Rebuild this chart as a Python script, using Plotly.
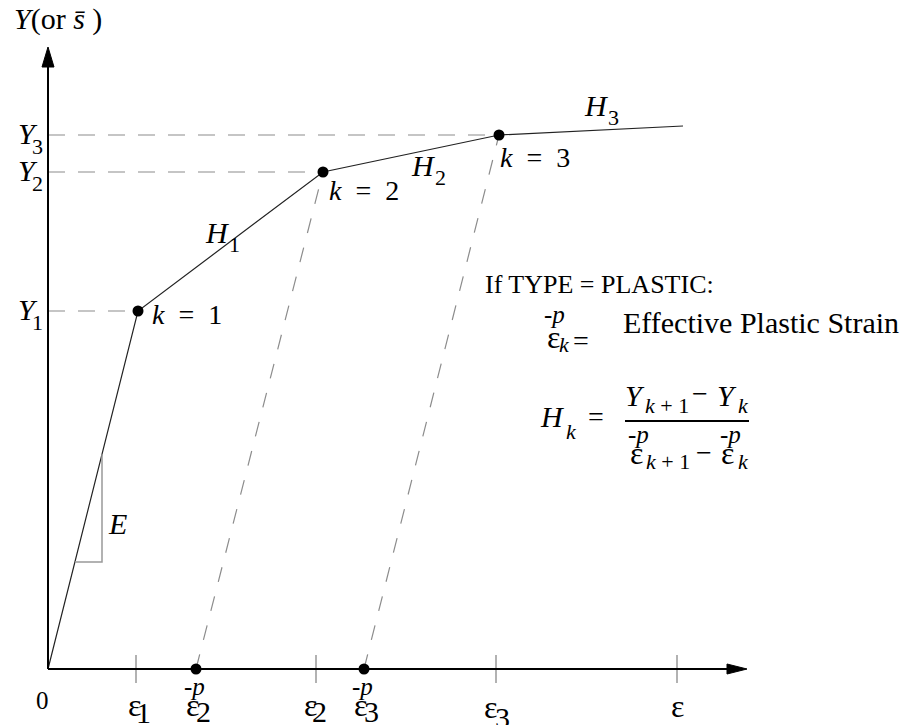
import plotly.graph_objects as go

# ---------------- data (schematic strain / stress units) ----------------
strain_pts = [0, 90, 275, 451, 635]        # origin, k=1, k=2, k=3, end of H3 segment
stress_pts = [0, 358, 497, 534, 543]
yield_levels = [358, 497, 534]             # Y1, Y2, Y3
yield_subs = ["1", "2", "3"]
total_strain_ticks = [88, 268, 448, 629]   # ε1, ε2, ε3, ε
total_strain_subs = ["1", "2", "3", ""]
plastic_strains = [148, 316]               # ε̄2p, ε̄3p
plastic_subs = ["2", "3"]
k_labels = ["1", "2", "3"]
H_subs = ["1", "2", "3"]

X_END = 699     # x-axis arrow tip (strain units)
Y_END = 622     # y-axis arrow tip (stress units)

# canvas
W, H = 905, 725
OX, OY = 48, 669   # where the origin sits on the canvas
FONT = "Liberation Serif"
DASH_GRAY = "#8c8c8c"

fig = go.Figure()

# horizontal dashed yield lines
for k, yv in enumerate(yield_levels):
    fig.add_trace(go.Scatter(x=[0, strain_pts[k + 1]], y=[yv, yv], mode="lines",
                             line=dict(color=DASH_GRAY, width=1.2, dash="17px,13px"),
                             hoverinfo="skip"))
# dashed elastic unloading lines
for i, ep in enumerate(plastic_strains):
    fig.add_trace(go.Scatter(x=[ep, strain_pts[i + 2]], y=[0, stress_pts[i + 2]], mode="lines",
                             line=dict(color=DASH_GRAY, width=1.2, dash="15px,15px"),
                             hoverinfo="skip"))
# stress-strain curve
fig.add_trace(go.Scatter(x=strain_pts, y=stress_pts, mode="lines",
                         line=dict(color="#222222", width=1.2), hoverinfo="skip"))
# k points
fig.add_trace(go.Scatter(x=strain_pts[1:4], y=stress_pts[1:4], mode="markers",
                         marker=dict(color="black", size=11), hoverinfo="skip"))
# plastic strain points on axis
fig.add_trace(go.Scatter(x=plastic_strains, y=[0] * len(plastic_strains), mode="markers",
                         marker=dict(color="black", size=11), hoverinfo="skip"))

shapes = []
# tick marks
for t in total_strain_ticks:
    shapes.append(dict(type="line", x0=t, x1=t, y0=-14, y1=14, xref="x", yref="y",
                       line=dict(color="#999999", width=1.5)))
# axes
shapes.append(dict(type="line", x0=0, x1=X_END - 19, y0=0, y1=0, xref="x", yref="y",
                   line=dict(color="black", width=2)))
shapes.append(dict(type="line", x0=0, x1=0, y0=0, y1=Y_END - 19, xref="x", yref="y",
                   line=dict(color="black", width=2)))
shapes.append(dict(type="path", xref="x", yref="y",
                   path=f"M {X_END-20},-5 L {X_END},0 L {X_END-20},5 Z",
                   fillcolor="black", line=dict(color="black", width=1)))
shapes.append(dict(type="path", xref="x", yref="y",
                   path=f"M -6,{Y_END-20} L 0,{Y_END} L 6,{Y_END-20} Z",
                   fillcolor="black", line=dict(color="black", width=1)))
# slope triangle E
E_slope = stress_pts[1] / strain_pts[1]
tri_x, tri_y = 54, 107
shapes.append(dict(type="path", xref="x", yref="y",
                   path=f"M {tri_y/E_slope},{tri_y} L {tri_x},{tri_y} L {tri_x},{E_slope*tri_x}",
                   line=dict(color="#999999", width=1.5)))
# fraction bar
shapes.append(dict(type="line", xref="x", yref="y", x0=625 - OX, x1=749 - OX,
                   y0=OY - 421, y1=OY - 421, line=dict(color="black", width=2)))

annotations = []


def ann(px, py, text, size, xanchor="center", yanchor="middle"):
    annotations.append(dict(x=px - OX, y=OY - py, xref="x", yref="y", text=text,
                            showarrow=False, xanchor=xanchor, yanchor=yanchor,
                            font=dict(family=FONT, size=size, color="black")))


def ann_d(x, y, dx, dy, text, size, xanchor="center"):
    annotations.append(dict(x=x, y=y, xref="x", yref="y", text=text, showarrow=False,
                            xshift=dx, yshift=-dy, xanchor=xanchor, yanchor="middle",
                            font=dict(family=FONT, size=size, color="black")))


# axis title
ann(12, 19, "<i>Y</i>(or <i>s\u0304</i> )", 30, xanchor="left")
# Y labels
for yv, s in zip(yield_levels, yield_subs):
    ann_d(0, yv, -20, -2, "<i>Y</i>", 30)
    ann_d(0, yv, -11, 11, s, 22)
# origin
ann(42, 700, "0", 25)
# total strain tick labels
eps_off = [(-2, 36, 7, 43), (-6, 36, 3, 42), (-6, 38, 6, 48), (0, 37, 0, 0)]
for t, s, (ex, ey, sx, sy) in zip(total_strain_ticks, total_strain_subs, eps_off):
    ann_d(t, 0, ex, ey, "ε", 32)
    if s:
        ann_d(t, 0, sx, sy, s, 30)
# plastic strain labels
for ep, s in zip(plastic_strains, plastic_subs):
    ann_d(ep, 0, -4, 36, "ε", 32)
    ann_d(ep, 0, 7, 42, s, 30)
    ann_d(ep, 0, -2, 17, "-<i>p</i>", 25)
# k labels
k_pos = [(12, 3), (4, 18), (-1, 22)]
for k, (dx, dy) in zip(k_labels, k_pos):
    i = int(k)
    ann_d(strain_pts[i], stress_pts[i], dx, dy, f"<i>k</i>\u00a0\u00a0=\u00a0\u00a0{k}", 28,
          xanchor="left")
# H labels
H_pos = [(217, 232), (423, 165), (596, 105)]
for s, (px, py) in zip(H_subs, H_pos):
    ann(px, py, "<i>H</i>", 30)
    ann(px + 17, py + 12, s, 22)
# E
ann(117, 523, "<i>E</i>", 30)

# text block
ann(483, 284, "If TYPE = PLASTIC:", 26, xanchor="left")
ann(553, 337, "ε", 32)
ann(554, 314, "-<i>p</i>", 25)
ann(564, 344, "<i>k</i>", 22)
ann(581, 340, "=", 28)
ann(621, 322, "Effective Plastic Strain", 30, xanchor="left")

ann(552, 416, "<i>H</i>", 30)
ann(571, 431, "<i>k</i>", 22)
ann(596, 416, "=", 28)
# numerator
ann(635, 395, "<i>Y</i>", 30)
ann(667, 405, "<i>k</i>\u00a0+\u00a01", 22)
ann(700, 393, "−", 28)
ann(727, 395, "<i>Y</i>", 30)
ann(743, 405, "<i>k</i>", 22)
# denominator
ann(636, 453, "ε", 32)
ann(638, 434, "-<i>p</i>", 25)
ann(668, 461, "<i>k</i>\u00a0+\u00a01", 22)
ann(704, 452, "−", 28)
ann(727, 453, "ε", 32)
ann(730, 434, "-<i>p</i>", 25)
ann(743, 461, "<i>k</i>", 22)

fig.update_layout(
    width=W, height=H,
    margin=dict(l=0, r=0, t=0, b=0),
    paper_bgcolor="white", plot_bgcolor="white",
    showlegend=False,
    xaxis=dict(range=[-OX, W - OX], visible=False, fixedrange=True),
    yaxis=dict(range=[OY - H, OY], visible=False, fixedrange=True),
    shapes=shapes,
    annotations=annotations,
)

fig.write_html("out.html", config={"displayModeBar": False},
               post_script="document.body.style.margin='0';document.body.style.overflow='hidden';")
